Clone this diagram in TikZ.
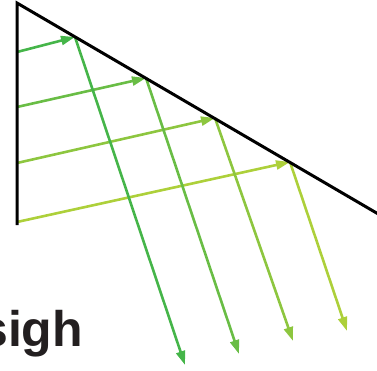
\documentclass[tikz,border=0pt]{standalone}
\usepackage{fontspec}
\setsansfont{Liberation Sans}
\usepackage{xcolor}
\usepackage{tikz}
\usetikzlibrary{arrows.meta}
\definecolor{ray1}{HTML}{45B549}
\definecolor{ray2}{HTML}{69BD45}
\definecolor{ray3}{HTML}{8DC63F}
\definecolor{ray4}{HTML}{ADD03A}
\definecolor{ink}{HTML}{231F20}
\tikzset{
  prism/.style={draw=black, line width=3pt, line join=miter},
  rayarrow/.style={
    -{Triangle[length=14pt, width=9pt]}, line width=2.6pt, color=#1
  },
  rayarrow/.default=ray1,
  wordlabel/.style={font=\fontsize{50}{50}\selectfont\sffamily\bfseries,
    text=ink, inner sep=0pt, anchor=base west},
}
\begin{document}
\begin{tikzpicture}[x=1pt, y=-1pt]
\useasboundingbox (0,0) rectangle (377,370);
% prism edges
\coordinate (top) at (17,3);
\coordinate (bottom) at (17,225);
\coordinate (far) at (380,215);
% entry points on the vertical edge
\coordinate (s1) at (17,52);
\coordinate (s2) at (17,107);
\coordinate (s3) at (17,163);
\coordinate (s4) at (17,222);
% reflection points on the slanted edge
\coordinate (p1) at (75,37);
\coordinate (p2) at (146,78);
\coordinate (p3) at (215,118);
\coordinate (p4) at (290,162);
% exit ends
\coordinate (e1) at (185,365);
\coordinate (e2) at (239,354);
\coordinate (e3) at (293,341);
\coordinate (e4) at (347,331);
% incoming rays
\draw[rayarrow=ray1] (s1) -- (p1);
\draw[rayarrow=ray2] (s2) -- (p2);
\draw[rayarrow=ray3] (s3) -- (p3);
\draw[rayarrow=ray4] (s4) -- (p4);
% reflected rays
\draw[rayarrow=ray1] (p1) -- (e1);
\draw[rayarrow=ray2] (p2) -- (e2);
\draw[rayarrow=ray3] (p3) -- (e3);
\draw[rayarrow=ray4] (p4) -- (e4);
\draw[prism] (bottom) -- (top) -- (far);
\node[wordlabel] (word) at (-20,346) {sigh};
\end{tikzpicture}
\end{document}
